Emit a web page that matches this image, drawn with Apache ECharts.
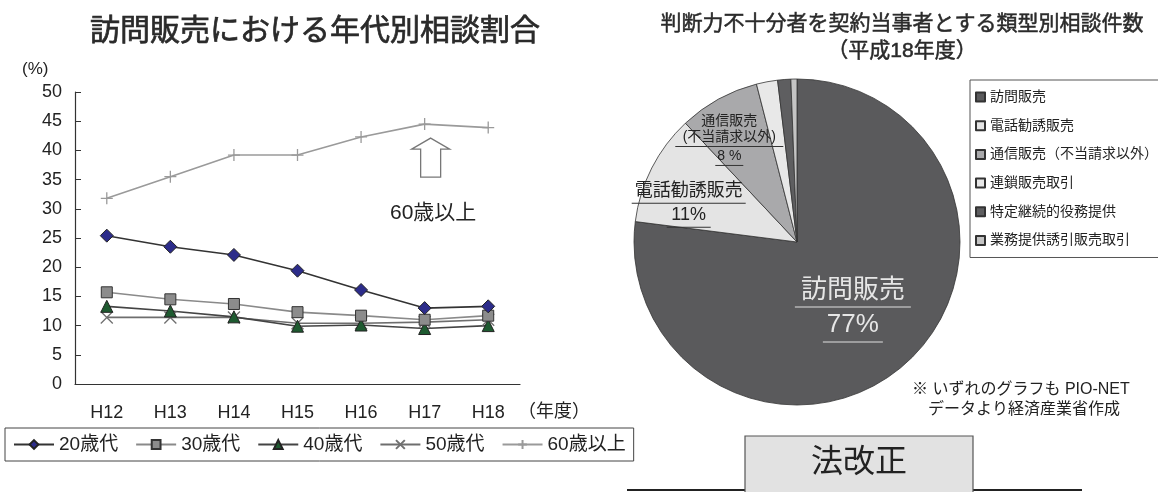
<!DOCTYPE html>
<html><head><meta charset="utf-8">
<script src="https://cdn.jsdelivr.net/npm/echarts@6/dist/echarts.min.js"></script>
<style>html,body{margin:0;padding:0;background:#fff}#c{width:1158px;height:492px}</style>
</head><body><div id="c"></div>
<script>
const categories = ['H12','H13','H14','H15','H16','H17','H18'];
const s20 = [25.4, 23.5, 22.1, 19.4, 16.1, 13.0, 13.3];
const s30 = [15.7, 14.5, 13.7, 12.3, 11.7, 11.0, 11.7];
const s40 = [13.3, 12.5, 11.5, 9.9, 10.1, 9.5, 10.0];
const s50 = [11.4, 11.4, 11.4, 10.4, 10.4, 10.6, 11.0];
const s60 = [31.8, 35.5, 39.2, 39.2, 42.3, 44.5, 43.9];
const seriesNames = ['20歳代','30歳代','40歳代','50歳代','60歳以上'];
const pieNames = ['訪問販売','電話勧誘販売','通信販売（不当請求以外）','連鎖販売取引','特定継続的役務提供','業務提供誘引販売取引'];
const pieValues = [77, 11, 8, 2.1, 1.3, 0.6];
const pieLabelTexts = ['訪問販売', '電話勧誘販売', '通信販売\n(不当請求以外)', '', '', ''];

const FF = '"Liberation Sans", "Noto Sans CJK JP", sans-serif';
const pieColors = ['#5a5a5c','#e4e4e4','#a9a9ab','#e8e8e8','#5e5e60','#c4c4c4'];

const chart = echarts.init(document.getElementById('c'), null, {renderer:'canvas'});

function uline(w, c){ return {width:w, height:1, lineHeight:3, backgroundColor:c}; }

const pieLabels = [
  {show:true, position:'inside', offset:[0,4],
   formatter: p => `{t|${pieLabelTexts[p.dataIndex]}}\n{u|}\n{p|${Math.round(p.value)}%}\n{v|}`,
   rich:{ t:{fontSize:26, color:'#e6e6e6', fontFamily:FF, lineHeight:30},
          u:uline(116,'#e0e0e0'),
          p:{fontSize:26, color:'#e6e6e6', fontFamily:FF, lineHeight:32},
          v:uline(60,'#e0e0e0') } },
  {show:true, position:'inside', offset:[-33,1],
   formatter: p => `{t|${pieLabelTexts[p.dataIndex]}}\n{u|}\n{p|${Math.round(p.value)}%}\n{v|}`,
   rich:{ t:{fontSize:18, color:'#222', fontFamily:FF, lineHeight:21},
          u:uline(114,'#333'),
          p:{fontSize:18, color:'#222', fontFamily:FF, lineHeight:21},
          v:uline(44,'#333') } },
  {show:true, position:'inside', offset:[-27,-28],
   formatter: p => {const a = pieLabelTexts[p.dataIndex].split('\n'); return `{t|${a[0]}}\n{t|${a[1]}}\n{u|}\n{p|${Math.round(p.value)} %}\n{v|}`;},
   rich:{ t:{fontSize:14, color:'#222', fontFamily:FF, lineHeight:16},
          u:uline(108,'#333'),
          p:{fontSize:14, color:'#222', fontFamily:FF, lineHeight:16},
          v:uline(28,'#333') } },
  {show:false},{show:false},{show:false}
];

const option = {
  animation:false,
  textStyle:{fontFamily:FF},
  title:[
    {text:'訪問販売における年代別相談割合', left:310, top:12, textAlign:'center',
     textStyle:{fontSize:30, fontWeight:'normal', color:'#2a2a2a', fontFamily:FF, textBorderColor:'#2a2a2a', textBorderWidth:0.7}},
    {text:'判断力不十分者を契約当事者とする類型別相談件数\n（平成18年度）', left:897, top:6, textAlign:'center',
     textStyle:{fontSize:21, fontWeight:'normal', color:'#2a2a2a', fontFamily:FF, lineHeight:27, textBorderColor:'#2a2a2a', textBorderWidth:0.5}}
  ],
  legend:[
    {data:seriesNames, left:5, top:428, orient:'horizontal', itemWidth:40, itemHeight:11, itemGap:17,
     padding:[7,8,7,8], borderColor:'#444', borderWidth:1,
     textStyle:{fontSize:19, color:'#222', fontFamily:FF}},
    {data:pieNames, left:970, top:80, orient:'vertical', icon:'rect', itemWidth:9, itemHeight:9, itemGap:14.7,
     padding:[10,5,10,5], borderColor:'#555', borderWidth:1,
     textStyle:{fontSize:14, color:'#222', fontFamily:FF}}
  ],
  grid:{left:75, right:638, top:92, bottom:108, containLabel:false},
  xAxis:{type:'category', data:categories, boundaryGap:true,
    axisLine:{lineStyle:{color:'#333', width:1.2}},
    axisTick:{inside:true, length:6, lineStyle:{color:'#333'}},
    axisLabel:{fontSize:18, color:'#222', margin:20, fontFamily:FF}},
  yAxis:{type:'value', min:0, max:50, interval:5,
    axisLine:{show:true, lineStyle:{color:'#333', width:1.2}},
    axisTick:{show:true, inside:true, length:6, lineStyle:{color:'#333'}},
    splitLine:{show:false},
    axisLabel:{fontSize:18, color:'#222', margin:13, fontFamily:FF}},
  series:[
    {name:'60歳以上', type:'line', data:s60, symbol:'path://M5,0L5,10M0,5L10,5', symbolSize:12,
     lineStyle:{color:'#9a9a9a', width:1.6}, itemStyle:{color:'transparent', borderColor:'#9a9a9a', borderWidth:1.3}},
    {name:'50歳代', type:'line', data:s50, symbol:'path://M0,0L10,10M10,0L0,10', symbolSize:12,
     lineStyle:{color:'#6e6e6e', width:1.6}, itemStyle:{color:'transparent', borderColor:'#707070', borderWidth:1.3}},
    {name:'40歳代', type:'line', data:s40, symbol:'triangle', symbolSize:12,
     lineStyle:{color:'#444', width:1.6}, itemStyle:{color:'#1e5a30', borderColor:'#222', borderWidth:1}},
    {name:'30歳代', type:'line', data:s30, symbol:'rect', symbolSize:11,
     lineStyle:{color:'#8a8a8a', width:1.6}, itemStyle:{color:'#8c8c8c', borderColor:'#333', borderWidth:1}},
    {name:'20歳代', type:'line', data:s20, symbol:'diamond', symbolSize:13,
     lineStyle:{color:'#333', width:1.6}, itemStyle:{color:'#2c2c8a', borderColor:'#222', borderWidth:1}},
    {name:'相談件数', type:'pie', center:[797,242], radius:163, startAngle:90, clockwise:true,
     avoidLabelOverlap:false, labelLine:{show:false},
     itemStyle:{borderColor:'#333', borderWidth:0.8},
     emphasis:{disabled:true},
     data: pieNames.map((n,i)=>({name:n, value:pieValues[i], itemStyle:{color:pieColors[i]}, label:pieLabels[i]}))}
  ],
  graphic:[
    {type:'text', left:22, top:61, style:{text:'(%)', fontSize:17, fill:'#222', fontFamily:FF}},
    {type:'text', left:518, top:403, style:{text:'（年度）', fontSize:18, fill:'#222', fontFamily:FF}},
    {type:'text', left:390, top:203, style:{text:'60歳以上', fontSize:21, fill:'#222', fontFamily:FF}},
    {type:'text', left:912, top:382, style:{text:'※ いずれのグラフも PIO-NET', fontSize:16, fill:'#222', fontFamily:FF}},
    {type:'text', left:928, top:402, style:{text:'データより経済産業省作成', fontSize:16, fill:'#222', fontFamily:FF}},
    {type:'line', shape:{x1:627, y1:490, x2:1082, y2:490}, style:{stroke:'#222', lineWidth:2}},
    {type:'rect', shape:{x:745, y:436, width:228, height:70}, style:{fill:'#e2e2e2', stroke:'#555', lineWidth:1.2}},
    {type:'text', left:811, top:447, style:{text:'法改正', fontSize:32, fill:'#222', fontFamily:FF}}
  ]
};
chart.setOption(option);

// arrow annotation pointing at the 60歳以上 H17 point
const p = chart.convertToPixel({seriesIndex:0}, [5, s60[5]]);
const tx = p[0] + 6, ty = p[1] + 14;
chart.setOption({graphic:[{type:'polygon', id:'arrow',
  shape:{points:[[tx,ty],[tx+19,ty+11],[tx+10,ty+11],[tx+10,ty+39],[tx-10,ty+39],[tx-10,ty+11],[tx-19,ty+11]]},
  style:{fill:'#fff', stroke:'#777', lineWidth:1.3}}]});
</script>
</body></html>
